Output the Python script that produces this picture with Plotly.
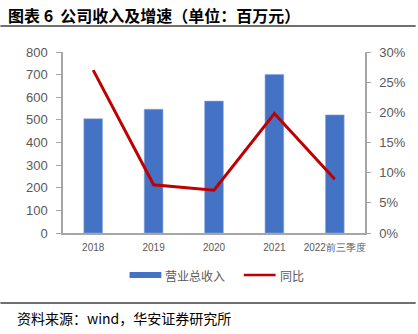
import plotly.graph_objects as go

# 营业总收入（百万元）与同比增速
years = ["2018", "2019", "2020", "2021", "2022前三季度"]
revenue = [505, 547, 583, 701, 522]
yoy = [27.0, 8.0, 7.1, 19.8, 8.9]

left_ticks = [0, 100, 200, 300, 400, 500, 600, 700, 800]
right_ticks = [0, 5, 10, 15, 20, 25, 30]
right_labels = [f"{v}%" for v in right_ticks]

BAR = "#4472C4"
LINE = "#C00000"
GRAY = "#595959"
AXIS = "#A6A6A6"
NUM_FONT = "Liberation Sans, Arial, sans-serif"
CJK_FONT = "Noto Sans CJK SC, sans-serif"

fig = go.Figure()
fig.add_trace(go.Bar(
    x=years, y=revenue, name="营业总收入",
    marker=dict(color=BAR, line=dict(color="#8FAADC", width=0.6)),
    width=0.31, yaxis="y",
))
fig.add_trace(go.Scatter(
    x=years, y=yoy, name="同比", mode="lines",
    line=dict(color=LINE, width=3), yaxis="y2",
))

fig.update_layout(
    width=418, height=334,
    margin=dict(l=63, r=51, t=52, b=101),
    paper_bgcolor="white", plot_bgcolor="white",
    showlegend=False,
    font=dict(family=NUM_FONT, color=GRAY),
    xaxis=dict(
        type="category", showgrid=False, showline=True, linecolor=AXIS, linewidth=1.5,
        ticks="", tickfont=dict(size=10, color=GRAY, family=NUM_FONT),
        ticklabelstandoff=4,
    ),
    yaxis=dict(
        range=[0, 800], tickvals=left_ticks, showgrid=False, zeroline=False,
        showline=True, linecolor=AXIS, linewidth=1.5,
        ticks="outside", ticklen=5, tickcolor=AXIS,
        tickfont=dict(size=13, color=GRAY, family=NUM_FONT),
        ticklabelstandoff=6,
    ),
    yaxis2=dict(
        range=[0, 30], tickvals=right_ticks, ticktext=right_labels,
        overlaying="y", side="right", showgrid=False, zeroline=False,
        showline=True, linecolor=AXIS, linewidth=1.5,
        ticks="outside", ticklen=4, tickcolor=AXIS,
        tickfont=dict(size=13, color=GRAY, family=NUM_FONT),
        ticklabelstandoff=6,
    ),
)

# 标题与分隔线
fig.add_annotation(
    xref="paper", yref="paper", x=(6 - 63) / 304, y=(233 - 15) / 181,
    text="<b>图表 6  公司收入及增速（单位：百万元）</b>",
    showarrow=False, xanchor="left", yanchor="middle",
    font=dict(family=CJK_FONT, size=16, color="#000000"),
)
fig.add_shape(type="line", xref="paper", yref="paper",
              x0=-63 / 304, x1=(418 - 63) / 304,
              y0=(233 - 26) / 181, y1=(233 - 26) / 181,
              line=dict(color="#404040", width=1.5))

# 图例
leg_y = (233 - 275) / 181
fig.add_shape(type="rect", xref="paper", yref="paper",
              x0=(130 - 63) / 304, x1=(162 - 63) / 304,
              y0=leg_y - 3 / 181, y1=leg_y + 3 / 181,
              fillcolor=BAR, line=dict(width=0))
fig.add_annotation(xref="paper", yref="paper", x=(164 - 63) / 304, y=leg_y,
                   text="营业总收入", showarrow=False, xanchor="left", yanchor="middle",
                   font=dict(family=CJK_FONT, size=12, color=GRAY))
fig.add_shape(type="line", xref="paper", yref="paper",
              x0=(245 - 63) / 304, x1=(277 - 63) / 304,
              y0=leg_y, y1=leg_y, line=dict(color=LINE, width=2.5))
fig.add_annotation(xref="paper", yref="paper", x=(279 - 63) / 304, y=leg_y,
                   text="同比", showarrow=False, xanchor="left", yanchor="middle",
                   font=dict(family=CJK_FONT, size=12, color=GRAY))

# 底部分隔线与资料来源
fig.add_shape(type="line", xref="paper", yref="paper",
              x0=-63 / 304, x1=(418 - 63) / 304,
              y0=(233 - 303) / 181, y1=(233 - 303) / 181,
              line=dict(color="#404040", width=1.5))
fig.add_annotation(xref="paper", yref="paper", x=(15 - 63) / 304, y=(233 - 318) / 181,
                   text="资料来源：wind，华安证券研究所", showarrow=False,
                   xanchor="left", yanchor="middle",
                   font=dict(family=CJK_FONT, size=14, color="#000000"))

fig.write_html("out.html")
